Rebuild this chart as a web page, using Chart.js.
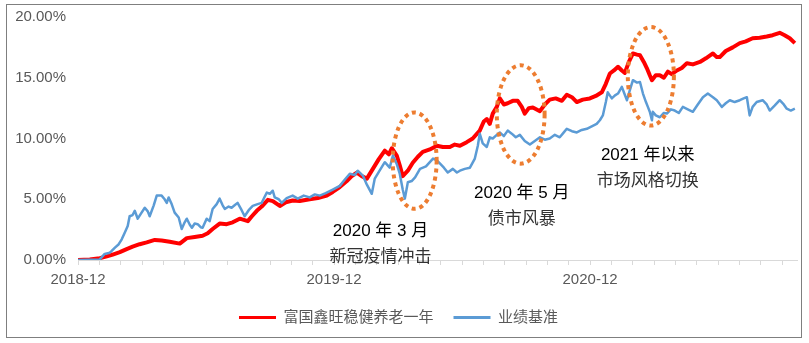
<!DOCTYPE html>
<html>
<head>
<meta charset="utf-8">
<script src="https://cdn.jsdelivr.net/npm/chart.js@4"></script>
<style>
  body { margin: 0; background: #fff; }
  #wrap { position: relative; width: 809px; height: 343px; }
  #frame { position: absolute; left: 6px; top: 4px; width: 796px; height: 334px;
           box-sizing: border-box; border: 1px solid #7f7f7f; pointer-events: none; }
</style>
</head>
<body>
<div id="wrap">
  <canvas id="chart" width="809" height="343"></canvas>
  <div id="frame"></div>
</div>
<script>
// months since 2018-12 / cumulative return in %
const fundName = "富国鑫旺稳健养老一年";
const benchName = "业绩基准";
const tickLabels = { 0: "2018-12", 12: "2019-12", 24: "2020-12" };

const fundX = [0,0.55,1.02,1.35,1.63,1.96,2.28,2.56,2.89,3.22,3.6,3.92,4.3,4.77,5.1,5.47,5.84,6.08,6.31,6.64,6.97,7.25,7.58,7.96,8.15,8.38,8.61,8.9,9.13,9.46,9.74,10.06,10.39,10.86,11.24,11.66,11.94,12.27,12.6,12.83,13.07,13.3,13.54,13.82,14.1,14.38,14.57,14.71,14.94,15.08,15.22,15.46,15.69,15.93,16.16,16.49,16.82,17.1,17.43,17.66,17.9,18.22,18.5,18.83,19.02,19.16,19.3,19.44,19.63,19.77,19.96,20.14,20.38,20.61,20.8,20.94,21.13,21.32,21.65,21.88,22.11,22.39,22.68,22.91,23.15,23.38,23.66,23.99,24.27,24.55,24.74,24.93,25.12,25.31,25.49,25.63,25.82,26.01,26.2,26.34,26.52,26.66,26.8,26.9,27.08,27.27,27.46,27.65,27.83,28.07,28.3,28.54,28.82,29.15,29.43,29.76,29.94,30.08,30.36,30.69,31.02,31.3,31.62,31.95,32.28,32.56,32.89,33.12,33.36,33.6];
const fundY = [0,0.05,0.15,0.3,0.45,0.65,0.9,1.1,1.3,1.45,1.65,1.6,1.5,1.35,1.8,1.9,2.0,2.2,2.55,3.0,2.95,3.1,3.4,3.2,3.6,4.05,4.4,4.95,4.85,4.45,4.75,4.9,4.85,5.0,5.1,5.3,5.6,6.0,6.5,6.9,7.2,6.9,6.7,7.5,8.3,9.0,8.7,9.2,8.6,7.8,6.9,7.35,8.0,8.5,8.9,9.1,9.4,9.3,9.3,9.5,9.4,9.7,10.0,10.65,11.4,11.6,11.2,12.05,12.6,13.3,12.8,12.9,13.1,13.1,12.6,12.05,12.5,12.55,12.25,12.8,13.2,13.3,13.1,13.6,13.4,13.0,13.2,13.3,13.5,13.8,14.5,15.35,15.6,15.9,15.6,15.4,16.3,17.0,16.9,16.85,16.3,15.8,15.2,14.8,15.2,15.2,15.0,15.5,15.3,15.6,15.8,16.2,16.1,16.3,16.6,17.0,16.7,16.7,17.2,17.5,17.85,18.0,18.25,18.3,18.4,18.5,18.7,18.5,18.25,17.85];

const benchX = [0,1.02,1.25,1.49,1.58,1.72,1.91,2.05,2.19,2.33,2.42,2.56,2.66,2.8,2.98,3.13,3.27,3.36,3.55,3.69,3.92,4.06,4.16,4.25,4.39,4.53,4.72,4.86,5.0,5.1,5.24,5.34,5.47,5.61,5.75,5.84,6.03,6.17,6.31,6.5,6.64,6.78,6.88,7.06,7.2,7.34,7.48,7.67,7.81,8.0,8.19,8.42,8.61,8.75,8.85,8.99,9.13,9.22,9.41,9.55,9.78,10.06,10.3,10.58,10.86,11.1,11.33,11.61,11.94,12.27,12.5,12.74,12.97,13.11,13.35,13.54,13.77,13.91,14.15,14.38,14.61,14.76,14.94,15.08,15.22,15.32,15.46,15.64,15.8,16.03,16.31,16.64,16.82,16.96,17.15,17.33,17.57,17.76,17.9,18.13,18.37,18.6,18.74,18.83,18.97,19.16,19.3,19.44,19.63,19.77,19.96,20.14,20.33,20.52,20.71,20.94,21.18,21.41,21.65,21.88,22.11,22.35,22.58,22.77,22.91,23.15,23.38,23.61,23.85,24.08,24.31,24.46,24.6,24.74,24.83,25.02,25.17,25.31,25.49,25.63,25.73,25.87,26.01,26.2,26.34,26.48,26.62,26.71,26.8,26.9,26.94,27.08,27.27,27.46,27.6,27.79,27.97,28.16,28.35,28.58,28.82,29.05,29.29,29.52,29.76,29.94,30.18,30.36,30.55,30.78,31.02,31.2,31.35,31.48,31.62,31.81,32.09,32.28,32.42,32.65,32.89,33.08,33.22,33.41,33.6];
const benchY = [0,0.05,0.5,0.6,0.75,1.0,1.3,1.7,2.25,2.8,3.6,3.7,4.05,3.4,3.9,4.3,4.0,3.6,4.5,5.3,5.3,5.0,4.7,5.15,4.6,3.9,3.5,2.55,3.1,3.4,2.9,2.65,3.0,2.95,2.7,2.65,3.4,3.2,4.2,4.6,5.05,4.5,4.2,4.4,4.3,4.5,4.7,4.1,3.6,4.1,4.45,4.6,4.7,5.2,5.55,5.45,5.7,5.15,5.0,4.7,5.1,5.3,5.05,5.3,5.15,5.4,5.3,5.5,5.8,6.1,6.6,7.1,7.0,7.35,6.95,6.2,5.45,6.7,7.4,8.05,7.6,8.6,7.9,7.1,5.8,5.05,6.4,6.5,6.8,7.5,7.7,8.35,8.2,7.95,7.6,7.2,7.5,7.2,7.35,7.5,7.6,8.35,9.4,10.4,9.6,9.3,10.1,10.0,10.3,10.5,10.2,10.65,10.4,10.1,10.3,9.8,9.5,9.8,10.1,9.9,10.0,10.3,10.1,10.5,10.8,10.6,10.5,10.7,10.8,11.0,11.2,11.5,11.9,13.0,13.8,13.3,13.55,13.7,14.25,13.6,13.15,14.0,14.8,14.6,14.65,13.7,13.0,12.6,12.2,11.5,12.2,11.9,11.75,12.1,12.05,12.4,12.3,12.1,12.6,12.4,12.2,12.8,13.4,13.7,13.4,13.15,12.6,12.9,13.15,13.0,13.15,13.3,13.4,11.9,12.6,13.0,13.15,12.8,12.3,12.7,13.15,12.8,12.45,12.3,12.45];

// highlighted periods: ellipse centre / radii in data units, then caption lines
const marks = [
  { cx: 15.78, cy: 8.18, rx: 1.03, ry: 3.97, tx: 14.18, ty: 2.4, lines: ["2020 年 3 月", "新冠疫情冲击"] },
  { cx: 20.75, cy: 11.98, rx: 1.12, ry: 4.05, tx: 20.8, ty: 5.5, lines: ["2020 年 5 月", "债市风暴"] },
  { cx: 26.85, cy: 15.12, rx: 1.08, ry: 4.05, tx: 26.7, ty: 8.6, lines: ["2021 年以来", "市场风格切换"] }
];

const toPts = (xs, ys) => xs.map((x, i) => ({ x, y: ys[i] }));
const FONT = "'Liberation Sans', 'Noto Sans CJK SC', sans-serif";

const markPlugin = {
  id: "marks",
  afterDatasetsDraw(chart) {
    const { ctx, scales: { x, y } } = chart;
    ctx.save();
    ctx.strokeStyle = "#ED7D31";
    ctx.lineWidth = 4;
    ctx.setLineDash([4, 4]);
    marks.forEach(m => {
      const px = x.getPixelForValue(m.cx), py = y.getPixelForValue(m.cy);
      const rx = x.getPixelForValue(m.cx + m.rx) - px;
      const ry = py - y.getPixelForValue(m.cy + m.ry);
      ctx.beginPath();
      ctx.ellipse(px, py, rx, ry, 0, 0, Math.PI * 2);
      ctx.stroke();
    });
    ctx.restore();
  },
  afterDraw(chart) {
    const { ctx, scales: { x, y } } = chart;
    ctx.save();
    ctx.font = "17px " + FONT;
    ctx.textAlign = "center";
    ctx.textBaseline = "middle";
    marks.forEach(m => {
      const px = x.getPixelForValue(m.tx), py = y.getPixelForValue(m.ty);
      ctx.fillStyle = "#000";
      ctx.fillText(m.lines[0], px, py);
      ctx.fillStyle = "#333";
      ctx.fillText(m.lines[1], px, py + 26);
    });
    ctx.restore();
  }
};

new Chart(document.getElementById("chart"), {
  type: "line",
  data: {
    datasets: [
      { label: fundName, data: toPts(fundX, fundY), borderColor: "#FF0000", backgroundColor: "#FF0000", borderWidth: 4, order: 1 },
      { label: benchName, data: toPts(benchX, benchY), borderColor: "#5B9BD5", backgroundColor: "#5B9BD5", borderWidth: 2.5, order: 0 }
    ]
  },
  options: {
    responsive: false,
    animation: false,
    devicePixelRatio: 1,
    layout: { padding: { top: 17, right: 12, left: 0, bottom: 8 } },
    elements: { point: { radius: 0 }, line: { tension: 0, borderJoinStyle: "round" } },
    scales: {
      x: {
        type: "linear", min: 0, max: 33.7,
        border: { display: true, color: "#d9d9d9" },
        grid: { drawOnChartArea: false, drawTicks: true, tickLength: 5, color: "#d9d9d9" },
        afterFit: s => { s.height = 30; },
        ticks: {
          stepSize: 1, includeBounds: false, autoSkip: false, maxRotation: 0, padding: 6,
          color: "#595959", font: { size: 15, family: FONT },
          callback: v => tickLabels[v] || ""
        }
      },
      y: {
        min: 0, max: 20,
        border: { display: false },
        grid: { display: false, drawTicks: false },
        afterFit: s => { s.width = 78; s.paddingTop = 0; s.paddingBottom = 0; },
        ticks: {
          stepSize: 5, padding: 12, color: "#595959", font: { size: 15, family: FONT },
          callback: v => v.toFixed(2) + "%"
        }
      }
    },
    plugins: {
      tooltip: { enabled: false },
      legend: {
        position: "bottom",
        labels: {
          boxWidth: 37, boxHeight: 3, padding: 20, color: "#595959",
          font: { size: 15, family: FONT },
          sort: (a, b) => a.datasetIndex - b.datasetIndex,
          generateLabels: chart => chart.data.datasets.map((d, i) => ({
            text: d.label, fillStyle: d.borderColor, strokeStyle: d.borderColor,
            lineWidth: 0, hidden: false, datasetIndex: i, fontColor: "#595959"
          }))
        }
      }
    }
  },
  plugins: [markPlugin]
});
</script>
</body>
</html>
